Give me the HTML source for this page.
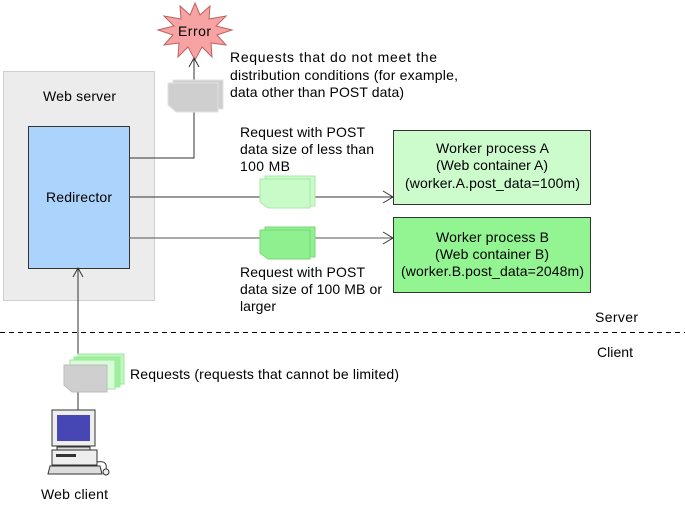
<!DOCTYPE html>
<html><head><meta charset="utf-8"><style>
body{margin:0;background:#fff}
svg text{font-family:"Liberation Sans",sans-serif;font-size:14px;fill:#000}
</style></head><body>
<svg width="685" height="512" viewBox="0 0 685 512" xmlns="http://www.w3.org/2000/svg">
<rect x="3.5" y="71.5" width="151" height="229" fill="#ececec" stroke="#d0d0d0"/>
<text x="43" y="101" textLength="73" lengthAdjust="spacing">Web server</text>
<rect x="28.5" y="126.5" width="101" height="142" fill="#acd3fb" stroke="#333"/>
<text x="46" y="202" textLength="66" lengthAdjust="spacing">Redirector</text>
<polygon fill="#f7a3a3" stroke="#c06060" points="195,3 200,15 210,6 209,19 226,16 216,26 232,30 217,35 226,45 211,43 212,57 202,47 195,60 188,47 178,57 179,43 164,45 173,35 158,30 174,26 164,16 181,19 180,6 190,15"/>
<text x="178" y="36" textLength="33" lengthAdjust="spacing">Error</text>
<g stroke="#333" fill="none" stroke-width="1">
<path d="M129 158H194V58"/><path d="M189 67L194 58L199 67"/>
<path d="M129 197H393"/><path d="M383 191L393 197L383 203"/>
<path d="M129 238H393" stroke="#555"/><path d="M383 232L393 238L383 244"/>
<path d="M78 410V268"/><path d="M73 277L78 268L83 277"/>
</g>
<path d="M0 332.5H685" stroke="#000" stroke-dasharray="5,4"/>
<g fill="#cfcfcf" stroke="#e2e2e2"><path d="M173 80H223V109H178L173 104Z"/><path d="M168 83H218V112H176L168 105Z"/></g>
<g fill="#c8fbc8" stroke="#a8e8a8"><path d="M265 176H315V206H270L265 200Z"/><path d="M260 179H310V208H268L260 202Z"/></g>
<g fill="#8ef08e" stroke="#7ad87a"><path d="M265 227H315V257H270L265 251Z"/><path d="M260 230H310V259H268L260 253Z"/></g>
<g stroke="#9de89d"><path d="M78 354H124V384H78Z" fill="#bff7bf"/><path d="M74 357H120V387H74Z" fill="#9ef09e"/><path d="M70 360H115V389H70Z" fill="#d8fcd8"/></g>
<g fill="#cfcfcf" stroke="#bbb"><path d="M64 365H107V392H72L64 385Z"/></g>
<text x="130" y="379" textLength="269" lengthAdjust="spacing">Requests (requests that cannot be limited)</text>
<rect x="393.5" y="130.5" width="197" height="74" fill="#ccfccc" stroke="#333"/>
<text x="436" y="153" textLength="113" lengthAdjust="spacing">Worker process A</text>
<text x="436" y="170" textLength="112" lengthAdjust="spacing">(Web container A)</text>
<text x="405" y="188" textLength="175" lengthAdjust="spacing">(worker.A.post_data=100m)</text>
<rect x="393.5" y="217.5" width="197" height="75" fill="#92f592" stroke="#333"/>
<text x="436" y="242" textLength="113" lengthAdjust="spacing">Worker process B</text>
<text x="435" y="259" textLength="114" lengthAdjust="spacing">(Web container B)</text>
<text x="401" y="276" textLength="183" lengthAdjust="spacing">(worker.B.post_data=2048m)</text>
<text x="230" y="62" textLength="207" lengthAdjust="spacing">Requests that do not meet the</text>
<text x="230" y="80" textLength="228" lengthAdjust="spacing">distribution conditions (for example,</text>
<text x="230" y="97" textLength="174" lengthAdjust="spacing">data other than POST data)</text>
<text x="240" y="137" textLength="125" lengthAdjust="spacing">Request with POST</text>
<text x="240" y="154" textLength="134" lengthAdjust="spacing">data size of less than</text>
<text x="240" y="171" textLength="50" lengthAdjust="spacing">100 MB</text>
<text x="240" y="277" textLength="125" lengthAdjust="spacing">Request with POST</text>
<text x="240" y="294" textLength="142" lengthAdjust="spacing">data size of 100 MB or</text>
<text x="240" y="311" textLength="36" lengthAdjust="spacing">larger</text>
<text x="595" y="322" textLength="43" lengthAdjust="spacing">Server</text>
<text x="597" y="357" textLength="36" lengthAdjust="spacing">Client</text>
<rect x="52" y="410" width="43" height="36" fill="#eee" stroke="#333"/>
<rect x="57" y="415" width="33" height="26" fill="#4646b4"/>
<rect x="57" y="447" width="33" height="3" fill="#ddd" stroke="#333"/>
<rect x="52" y="450" width="45" height="15" fill="#eee" stroke="#333"/>
<rect x="56" y="454" width="20" height="3" fill="#333"/>
<path d="M50 466H100L102 474H48Z" fill="#ddd" stroke="#333"/>
<path d="M97 462Q108 460 106 470" stroke="#333" fill="none"/><ellipse cx="106" cy="472" rx="3" ry="3" fill="#eee" stroke="#333"/>
<text x="41" y="499" textLength="67" lengthAdjust="spacing">Web client</text>
</svg>
</body></html>
